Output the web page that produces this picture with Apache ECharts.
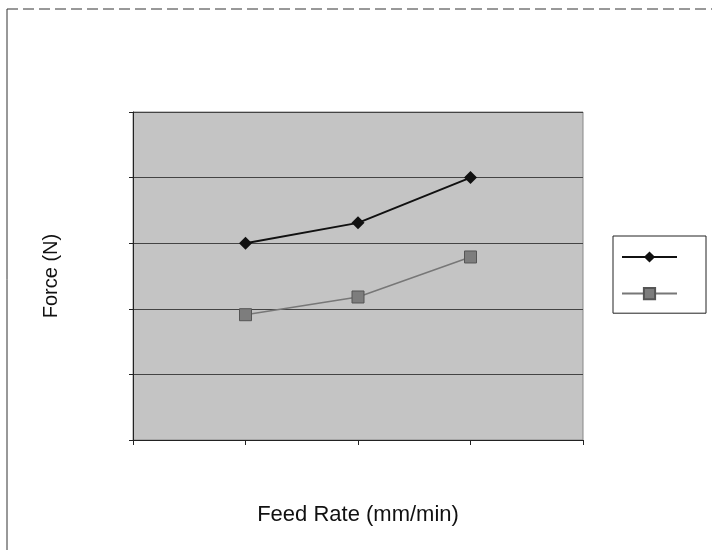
<!DOCTYPE html>
<html>
<head>
<meta charset="utf-8">
<style>html,body{margin:0;padding:0;background:#fff}#c{width:712px;height:550px}</style>
<script src="https://cdn.jsdelivr.net/npm/echarts@6/dist/echarts.min.js"></script>
</head>
<body>
<div id="c"></div>
<script>
var xPositions = [1, 2, 3];
var series1Values = [3.0, 3.31, 4.0];
var series2Values = [1.91, 2.18, 2.79];
var seriesNames = ['Series 1', 'Series 2'];
var xAxisTitle = 'Feed Rate (mm/min)';
var yAxisTitle = 'Force (N)';

function pairs(xs, ys) { return xs.map(function (x, i) { return [x, ys[i]]; }); }

var chart = echarts.init(document.getElementById('c'), null, { renderer: 'canvas' });
chart.setOption({
  backgroundColor: '#ffffff',
  animation: false,
  grid: {
    left: 133, right: 129, top: 112, bottom: 110,
    show: true, backgroundColor: '#c4c4c4', borderColor: '#888', borderWidth: 1
  },
  xAxis: {
    type: 'value', min: 0, max: 4, interval: 1,
    axisLine: { show: true, onZero: false, lineStyle: { color: '#222', width: 1 } },
    axisTick: { show: true, length: 5, lineStyle: { color: '#222' } },
    axisLabel: { show: false },
    splitLine: { show: false },
    name: xAxisTitle, nameLocation: 'middle', nameGap: 64,
    nameTextStyle: { fontFamily: 'Liberation Sans', fontSize: 22, color: '#111' }
  },
  yAxis: {
    type: 'value', min: 0, max: 5, interval: 1,
    axisLine: { show: true, lineStyle: { color: '#222', width: 1 } },
    axisTick: { show: true, length: 4, lineStyle: { color: '#222' } },
    axisLabel: { show: false },
    splitLine: { show: true, lineStyle: { color: '#444', width: 1 } },
    name: yAxisTitle, nameLocation: 'middle', nameGap: 72, nameRotate: 90,
    nameTextStyle: { fontFamily: 'Liberation Sans', fontSize: 20, color: '#111' }
  },
  legend: {
    orient: 'vertical', left: 613, top: 236,
    data: seriesNames,
    formatter: function () { return ''; },
    itemWidth: 55, itemHeight: 14, itemGap: 24,
    padding: [14, 28, 13, 8],
    borderColor: '#222', borderWidth: 1,
    textStyle: { fontSize: 1 }
  },
  series: [
    {
      name: seriesNames[0], type: 'line', data: pairs(xPositions, series1Values),
      symbol: 'diamond', symbolSize: 13,
      lineStyle: { color: '#111', width: 2 },
      itemStyle: { color: '#111' }
    },
    {
      name: seriesNames[1], type: 'line', data: pairs(xPositions, series2Values),
      symbol: 'rect', symbolSize: 12,
      lineStyle: { color: '#777', width: 1.5 },
      itemStyle: { color: '#7d7d7d', borderColor: '#555', borderWidth: 1 }
    }
  ],
  graphic: [
    { type: 'line', shape: { x1: 7, y1: 9, x2: 712, y2: 9 }, style: { stroke: '#333', lineWidth: 1, lineDash: [11, 5] } },
    { type: 'line', shape: { x1: 7, y1: 9, x2: 7, y2: 550 }, style: { stroke: '#333', lineWidth: 1 } }
  ]
});
</script>
</body>
</html>
